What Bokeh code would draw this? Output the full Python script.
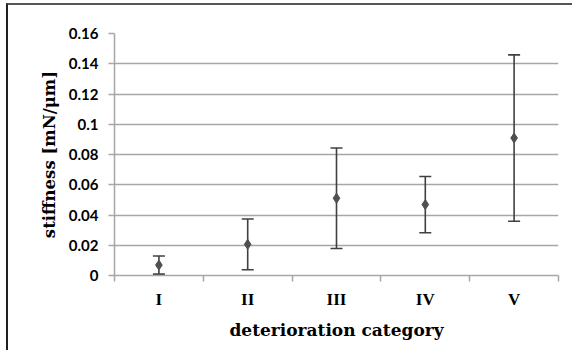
from bokeh.plotting import figure
from bokeh.models import (ColumnDataSource, Whisker, TeeHead, FixedTicker, Range1d, Title)
from bokeh.embed import file_html
from bokeh.resources import INLINE

categories = ["I", "II", "III", "IV", "V"]
mean_stiffness = [0.0069, 0.0206, 0.0511, 0.0469, 0.0909]
std_stiffness = [0.0060, 0.0168, 0.0332, 0.0186, 0.0550]
y_ticks = [0.0, 0.02, 0.04, 0.06, 0.08, 0.10, 0.12, 0.14, 0.16]
y_tick_labels = ["0", "0.02", "0.04", "0.06", "0.08", "0.1", "0.12", "0.14", "0.16"]

xpos = [i + 0.5 for i in range(len(categories))]
src = ColumnDataSource(dict(
    x=xpos, mean=mean_stiffness,
    upper=[m + s for m, s in zip(mean_stiffness, std_stiffness)],
    lower=[m - s for m, s in zip(mean_stiffness, std_stiffness)],
))

SERIF = "DejaVu Serif"
SERIF2 = "Liberation Serif"
SANS = "Lato"
GRID = "#a6a6a6"
DARK = "#404040"

p = figure(width=566, height=347, output_backend="svg", toolbar_location=None,
           x_range=Range1d(0, len(categories)), y_range=Range1d(0, 0.16),
           min_border_left=106, min_border_right=16, min_border_top=28,
           min_border_bottom=77)
p.styles = {"margin-left": "6px", "margin-top": "3px",
            "border-left": "2px solid #202020", "border-top": "2px solid #555555"}
p.outline_line_color = None
p.background_fill_color = "white"
p.border_fill_color = "white"

# grid
p.xgrid.visible = False
p.ygrid.ticker = FixedTicker(ticks=y_ticks)
p.ygrid.grid_line_color = GRID
p.ygrid.grid_line_width = 1.5

# y axis
p.yaxis.ticker = FixedTicker(ticks=y_ticks)
p.yaxis.major_label_overrides = {t: l for t, l in zip(y_ticks, y_tick_labels)}
p.yaxis.axis_line_color = GRID
p.yaxis.axis_line_width = 1.5
p.yaxis.major_tick_line_color = GRID
p.yaxis.major_tick_line_width = 1.5
p.yaxis.major_tick_out = 6
p.yaxis.major_tick_in = 0
p.yaxis.minor_tick_line_color = None
p.yaxis.major_label_standoff = 10
p.yaxis.major_label_text_font = SANS
p.yaxis.major_label_text_font_style = "bold"
p.yaxis.major_label_text_font_size = "15px"
p.yaxis.major_label_text_color = "black"

ytitle = Title(text="stiffness [mN/\u03bcm]", align="center", offset=10,
               text_font=SERIF, text_font_style="bold", text_font_size="16.5px",
               text_color="black", standoff=14)
p.add_layout(ytitle, "left")

# x axis
p.xaxis.ticker = FixedTicker(ticks=xpos, minor_ticks=list(range(len(categories) + 1)))
p.xaxis.major_label_overrides = {x: c for x, c in zip(xpos, categories)}
p.xaxis.axis_line_color = GRID
p.xaxis.axis_line_width = 1.5
p.xaxis.major_tick_line_color = None
p.xaxis.major_tick_out = 0
p.xaxis.major_tick_in = 0
p.xaxis.minor_tick_line_color = GRID
p.xaxis.minor_tick_line_width = 1.5
p.xaxis.minor_tick_out = 6
p.xaxis.minor_tick_in = 0
p.xaxis.major_label_standoff = 8
p.xaxis.major_label_text_font = SERIF2
p.xaxis.major_label_text_font_style = "bold"
p.xaxis.major_label_text_font_size = "17px"
p.xaxis.major_label_text_color = "black"
p.xaxis.axis_label = "deterioration category"
p.xaxis.axis_label_text_font = SERIF
p.xaxis.axis_label_text_font_style = "bold"
p.xaxis.axis_label_text_font_size = "17px"
p.xaxis.axis_label_text_color = "black"
p.xaxis.axis_label_standoff = 8

# error bars
w = Whisker(source=src, base="x", upper="upper", lower="lower",
            line_color=DARK, line_width=1.6,
            upper_head=TeeHead(size=12, line_color=DARK, line_width=1.6),
            lower_head=TeeHead(size=12, line_color=DARK, line_width=1.6))
p.add_layout(w)

p.scatter("x", "mean", source=src, marker="diamond", size=10,
          fill_color="#505050", line_color="#505050")

open("out.html", "w").write(file_html(p, INLINE))
